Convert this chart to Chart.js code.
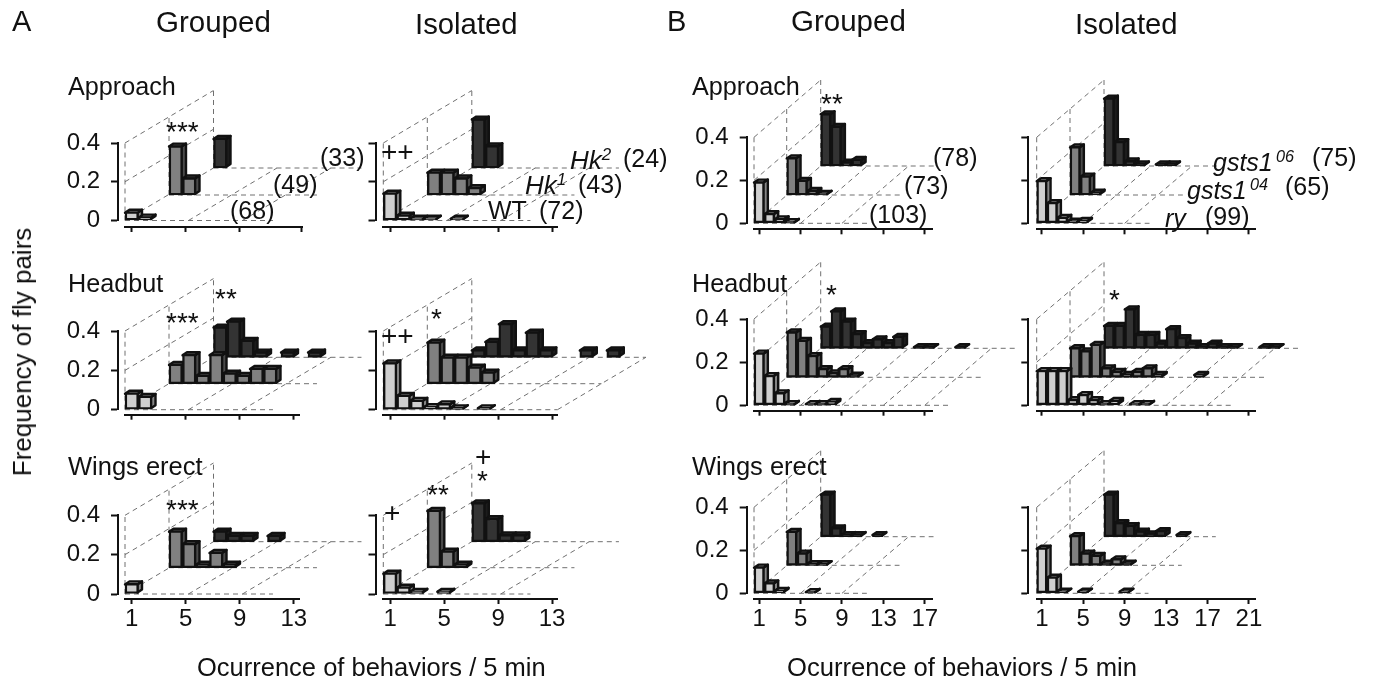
<!DOCTYPE html>
<html>
<head>
<meta charset="utf-8">
<script src="https://cdn.jsdelivr.net/npm/chart.js@4/dist/chart.umd.min.js"></script>
<style>
  html, body { margin: 0; background: #fff; width: 1373px; height: 681px; overflow: hidden; }
  canvas { position: absolute; left: 0; top: 0; }
  .t { position: absolute; white-space: nowrap; line-height: 1; color: #111; transform: translateY(-50%);
       font-family: "Liberation Sans", Arial, sans-serif; }
  .t sup { font-size: 65%; line-height: 0; vertical-align: 0.55em; }
</style>
</head>
<body>
<script>
const W = 1373, H = 681;

const aTicks = [1, 5, 9, 13];
const aTopTicks = [1, 5, 9, 13.6]; // last tick of the first panel sits at the axis end
const bGroupedTicks = [1, 5, 9, 13, 17];
const bIsolatedTicks = [1, 5, 9, 13, 17, 21];
const yTicks = [0, 0.2, 0.4];

// frequency per occurrence bin (bin 1, 2, 3 ...)
const aGroupedApproachWT = [.045, .02];
const aGroupedApproachHk1 = [.255, .09];
const aGroupedApproachHk2 = [.155];
const aIsolatedApproachWT = [.143, .03, .014, .014, 0, .014];
const aIsolatedApproachHk1 = [.12, .12, .09, .04];
const aIsolatedApproachHk2 = [.255, .117];

const aGroupedHeadbutWT = [.086, .07];
const aGroupedHeadbutHk1 = [.10, .15, .044, .15, .056, .044, .08, .08];
const aGroupedHeadbutHk2 = [.156, .186, .088, .029, 0, .029, 0, .029];
const aIsolatedHeadbutWT = [.24, .075, .05, .018, .032, .012, 0, .012];
const aIsolatedHeadbutHk1 = [.213, .137, .137, .086, .061];
const aIsolatedHeadbutHk2 = [.04, .083, .173, .04, .13, .04, 0, 0, .04, 0, .04];

const aGroupedWingsWT = [.054];
const aGroupedWingsHk1 = [.188, .124, .02, .08, .02];
const aGroupedWingsHk2 = [.056, .034, .034, 0, .034];
const aIsolatedWingsWT = [.108, .037, .016, 0, .016];
const aIsolatedWingsHk1 = [.293, .086, .02];
const aIsolatedWingsHk2 = [.2, .12, .037, .037];

const bGroupedApproachRy = [.194, .047, .023, .01];
const bGroupedApproach04 = [.175, .07, .023, .01];
const bGroupedApproach06 = [.245, .186, .02, .033];
const bIsolatedApproachRy = [.2, .098, .03, .012, .016];
const bIsolatedApproach04 = [.226, .09, .015];
const bIsolatedApproach06 = [.318, .115, .026, .012, 0, .012, .012];

const bGroupedHeadbutRy = [.244, .14, .06, .01, 0, .01, .01, .02];
const bGroupedHeadbut04 = [.212, .173, .103, .042, .023, .042, .012];
const bGroupedHeadbut06 = [.105, .175, .128, .07, .028, .046, .028, .057, 0, .01, .01, 0, 0, .01];
const bIsolatedHeadbutRy = [.163, .163, .163, .028, .052, .028, .01, .025, 0, .01, .01];
const bIsolatedHeadbut04 = [.139, .124, .155, .046, .03, .015, .03, .046, .015, 0, 0, 0, .015];
const bIsolatedHeadbut06 = [.108, .108, .185, .066, .066, .026, .093, .051, .026, .01, .026, .01, .01, 0, 0, .01, .01];

const bGroupedWingsRy = [.124, .05, .016, 0, 0, .01];
const bGroupedWings04 = [.16, .059, .01, .01];
const bGroupedWings06 = [.2, .043, .012, .012, 0, .012];
const bIsolatedWingsRy = [.212, .077, .012, 0, .012, 0, 0, 0, .012];
const bIsolatedWings04 = [.14, .059, .048, .012, .032, .012];
const bIsolatedWings06 = [.2, .067, .054, .028, .015, .03, 0, .012];

const frontColors = ['#cfcfcf', '#808080', '#333333'];
const sideColors = ['#858585', '#4a4a4a', '#1c1c1c'];
const topColors = ['#a0a0a0', '#5a5a5a', '#262626'];

const rowsA = [{top: 143, bottom: 220.5, axis: 227, dy: [25.5, 52.5]},
               {top: 331, bottom: 409.7, axis: 414.7, dy: [26, 52.4]},
               {top: 515.3, bottom: 594, axis: 599, dy: [26.3, 52.3]}];
const rowsB = [{top: 137.3, bottom: 223.3, axis: 229.3, dy: [28.3, 57.3]},
               {top: 319, bottom: 405.3, axis: 410.7, dy: [28, 57]},
               {top: 507.3, bottom: 593.3, axis: 599, dy: [28, 56.6]}];

const colA1 = {left: 125, right: 299, yAxis: 118, unit: 13.5, dx: [44, 88.5], xt: aTicks, yLabels: true};
const colA1Top = {left: 125, right: 302, yAxis: 118, unit: 13.5, dx: [44, 88.5], xt: aTopTicks, yLabels: true};
const colA2 = {left: 383.3, right: 557, yAxis: 375.5, unit: 13.5, dx: [44, 88.5], xt: aTicks, yLabels: false};
const colB1 = {left: 754, right: 932, yAxis: 746.7, unit: 10.35, dx: [32.7, 66.7], xt: bGroupedTicks, yLabels: true};
const colB2 = {left: 1036.7, right: 1255, yAxis: 1028.3, unit: 10.35, dx: [33.3, 67.3], xt: bIsolatedTicks, yLabels: false};

const panels = [
  {col: colA1Top, row: rowsA[0], floor: 11.46, slants: [5.2, 9.2], series: [aGroupedApproachWT, aGroupedApproachHk1, aGroupedApproachHk2]},
  {col: colA2, row: rowsA[0], floor: 11.4, slants: [5.2, 9.2], series: [aIsolatedApproachWT, aIsolatedApproachHk1, aIsolatedApproachHk2]},
  {col: colB1, row: rowsB[0], floor: 11.7, slants: [5, 9], series: [bGroupedApproachRy, bGroupedApproach04, bGroupedApproach06]},
  {col: colB2, row: rowsB[0], floor: 11.4, slants: [5, 9], series: [bIsolatedApproachRy, bIsolatedApproach04, bIsolatedApproach06]},
  {col: colA1, row: rowsA[1], floor: 11.46, slants: [5.2, 9.2], series: [aGroupedHeadbutWT, aGroupedHeadbutHk1, aGroupedHeadbutHk2]},
  {col: colA2, row: rowsA[1], floor: 13.4, slants: [5.2, 9.2, 13.4], series: [aIsolatedHeadbutWT, aIsolatedHeadbutHk1, aIsolatedHeadbutHk2]},
  {col: colB1, row: rowsB[1], floor: 19.4, slants: [5, 9, 13, 17], series: [bGroupedHeadbutRy, bGroupedHeadbut04, bGroupedHeadbut06]},
  {col: colB2, row: rowsB[1], floor: 19.5, slants: [5, 9, 13, 17], series: [bIsolatedHeadbutRy, bIsolatedHeadbut04, bIsolatedHeadbut06]},
  {col: colA1, row: rowsA[2], floor: 11.46, slants: [5.2, 9.2], series: [aGroupedWingsWT, aGroupedWingsHk1, aGroupedWingsHk2], xLabels: true},
  {col: colA2, row: rowsA[2], floor: 11.4, slants: [5.2, 9.2], series: [aIsolatedWingsWT, aIsolatedWingsHk1, aIsolatedWingsHk2], xLabels: true},
  {col: colB1, row: rowsB[2], floor: 11.4, slants: [5, 9], series: [bGroupedWingsRy, bGroupedWings04, bGroupedWings06], xLabels: true},
  {col: colB2, row: rowsB[2], floor: 11.3, slants: [5, 9], series: [bIsolatedWingsRy, bIsolatedWings04, bIsolatedWings06], xLabels: true}
];

// [html, x, y centre, font size]
const texts = [
  ['A', 12, 21, 29], ['Grouped', 156, 22, 29.5], ['Isolated', 415, 24, 29.3],
  ['B', 667, 21, 29], ['Grouped', 791, 21, 29.5], ['Isolated', 1075, 24, 29.3],
  ['Approach', 68, 87, 25.2], ['Headbut', 68, 284, 25.2], ['Wings erect', 68, 467, 25.5],
  ['Approach', 692, 87, 25.2], ['Headbut', 692, 284, 25.2], ['Wings erect', 692, 467, 25.5],
  ['(33)', 320, 157, 25], ['(49)', 273, 184, 25], ['(68)', 230, 210, 25],
  ['<i>Hk<sup>2</sup></i>', 570, 160, 26], ['(24)', 623, 158, 25],
  ['<i>Hk<sup>1</sup></i>', 525, 185, 26], ['(43)', 578, 184, 25],
  ['WT', 488, 210, 25], ['(72)', 539, 210, 25],
  ['(78)', 933, 157, 25], ['(73)', 904, 185, 25], ['(103)', 869, 214, 25],
  ['<i>gsts1<sup>&thinsp;06</sup></i>', 1213, 162, 25], ['(75)', 1312, 157, 25],
  ['<i>gsts1<sup>&thinsp;04</sup></i>', 1187, 190, 25], ['(65)', 1285, 186, 25],
  ['<i>ry</i>', 1165, 218, 25], ['(99)', 1205, 216, 25],
  ['Ocurrence of behaviors / 5 min', 197, 668, 25.5],
  ['Ocurrence of behaviors / 5 min', 787, 668, 25.6]
];
// significance marks, x and glyph centre y
const stars = [
  ['***', 166, 125], ['***', 166, 316], ['**', 215, 292], ['*', 431, 312],
  ['***', 166, 503], ['**', 427, 488], ['*', 477, 474],
  ['**', 821, 97], ['*', 826, 288], ['*', 1109, 293]
];
const pluses = [['++', 381, 152], ['++', 381, 336], ['+', 384, 513], ['+', 475, 457]];

Chart.defaults.font.family = '"Liberation Sans", Arial, sans-serif';
Chart.defaults.color = '#111';

// draws the dashed box behind the bars
const wirePlugin = {
  id: 'wire',
  beforeDatasetsDraw(chart, args, opts) {
    const c = chart.ctx, s = chart.scales;
    const xs = [s.x, s.x1, s.x2], ys = [s.y, s.y1, s.y2];
    const seg = (x1, y1, x2, y2) => { c.moveTo(x1, y1); c.lineTo(x2, y2); };
    c.save();
    c.strokeStyle = '#707070';
    c.lineWidth = 1;
    c.setLineDash([5, 4]);
    c.beginPath();
    for (let i = 0; i < 3; i++) {
      let x0 = xs[i].getPixelForValue(0.5);
      seg(x0, ys[i].getPixelForValue(0), x0, ys[i].getPixelForValue(0.4));
      seg(x0, ys[i].getPixelForValue(0), xs[i].getPixelForValue(opts.floor), ys[i].getPixelForValue(0));
    }
    for (let v of yTicks)
      seg(xs[0].getPixelForValue(0.5), ys[0].getPixelForValue(v), xs[2].getPixelForValue(0.5), ys[2].getPixelForValue(v));
    for (let t of opts.slants)
      seg(xs[0].getPixelForValue(t), ys[0].getPixelForValue(0), xs[2].getPixelForValue(t), ys[2].getPixelForValue(0));
    c.stroke();
    c.restore();
  }
};

// top and right faces of each bar, the library draws the front on top of them
const depthPlugin = {
  id: 'depth',
  beforeDatasetDraw(chart, args) {
    const c = chart.ctx, i = args.index;
    const d = 4.5, e = 3;
    c.save();
    c.lineWidth = 2.4;
    c.lineJoin = 'round';
    c.strokeStyle = '#111';
    for (let bar of args.meta.data) {
      let l = bar.x - bar.width / 2, r = bar.x + bar.width / 2 - 1, t = bar.y + 1, b = bar.base - 1;
      c.fillStyle = sideColors[i];
      c.beginPath();
      c.moveTo(r, t); c.lineTo(r + d, t - e); c.lineTo(r + d, b - e); c.lineTo(r, b);
      c.closePath(); c.fill(); c.stroke();
      c.fillStyle = topColors[i];
      c.beginPath();
      c.moveTo(l, t); c.lineTo(l + d, t - e); c.lineTo(r + d, t - e); c.lineTo(r, t);
      c.closePath(); c.fill(); c.stroke();
    }
    c.restore();
  }
};

// axes stand a little away from the bars, as in the figure
const detachPlugin = {
  id: 'detach',
  afterLayout(chart, args, opts) {
    chart.scales.y.left -= opts.yGap;
    chart.scales.y.right -= opts.yGap;
    chart.scales.x.top += opts.xGap;
    chart.scales.x.bottom += opts.xGap;
  }
};

function drawPanel(p) {
  const col = p.col, row = p.row, u = col.unit;
  const ppu = (row.bottom - row.top) / 0.4;
  const xMax = 0.5 + (col.right - col.left) / u;
  const yW = 60, xH = 45;

  const canvas = document.createElement('canvas');
  canvas.width = W; canvas.height = H;
  document.body.appendChild(canvas);

  const scales = {
    x: {
      type: 'linear', min: 0.5, max: xMax, offset: false,
      afterBuildTicks: s => { s.ticks = col.xt.map(v => ({value: v})); },
      afterFit: s => { s.height = xH; },
      grid: {drawOnChartArea: false, drawTicks: true, tickLength: 5, tickWidth: 2, tickColor: '#111', offset: false},
      border: {display: true, width: 2, color: '#111'},
      ticks: {autoSkip: false, maxRotation: 0, minRotation: 0, padding: 1, font: {size: 24},
              callback: v => p.xLabels ? String(v) : ''}
    },
    y: {
      type: 'linear', min: 0, max: 0.4,
      afterBuildTicks: s => { s.ticks = yTicks.map(v => ({value: v})); },
      afterFit: s => { s.width = yW; },
      grid: {drawOnChartArea: false, drawTicks: true, tickLength: 7, tickWidth: 2, tickColor: '#111'},
      border: {display: true, width: 2, color: '#111'},
      ticks: {padding: 11, font: {size: 24},
              callback: v => col.yLabels ? (v === 0 ? '0' : v.toFixed(1)) : ''}
    }
  };
  // one hidden pair of scales per depth row
  [1, 2].forEach(k => {
    let dx = col.dx[k - 1] / u, dy = row.dy[k - 1] / ppu;
    scales['x' + k] = {type: 'linear', display: false, min: 0.5 - dx, max: xMax - dx, offset: false};
    scales['y' + k] = {type: 'linear', display: false, min: -dy, max: 0.4 - dy};
  });

  const datasets = p.series.map((vals, i) => ({
    data: vals.map((v, n) => ({x: n + 1, y: v})).filter(pt => pt.y > 0),
    xAxisID: i ? 'x' + i : 'x',
    yAxisID: i ? 'y' + i : 'y',
    backgroundColor: frontColors[i],
    borderColor: '#111',
    borderWidth: 2.4,
    borderSkipped: false,
    barThickness: u,
    grouped: false,
    clip: false
  }));

  new Chart(canvas, {
    type: 'bar',
    data: {datasets: datasets},
    options: {
      responsive: false,
      animation: false,
      layout: {padding: {left: col.left - yW, top: row.top, right: W - col.right, bottom: H - row.bottom - xH}},
      scales: scales,
      plugins: {
        legend: {display: false},
        tooltip: {enabled: false},
        wire: {floor: p.floor, slants: p.slants},
        detach: {yGap: col.left - col.yAxis, xGap: row.axis - row.bottom}
      }
    },
    plugins: [wirePlugin, depthPlugin, detachPlugin]
  });
}
panels.forEach(drawPanel);

function addText(html, x, y, size) {
  const el = document.createElement('div');
  el.className = 't';
  el.innerHTML = html;
  el.style.left = x + 'px';
  el.style.top = y + 'px';
  el.style.fontSize = size + 'px';
  document.body.appendChild(el);
  return el;
}
texts.forEach(t => addText(t[0], t[1], t[2], t[3]));
stars.forEach(t => addText(t[0], t[1], t[2] + 7, 28));
pluses.forEach(t => addText(t[0], t[1], t[2], 28));

const yTitle = addText('Frequency of fly pairs', 22, 352, 26);
yTitle.style.transform = 'translate(-50%, -50%) rotate(-90deg)';
</script>
</body>
</html>
